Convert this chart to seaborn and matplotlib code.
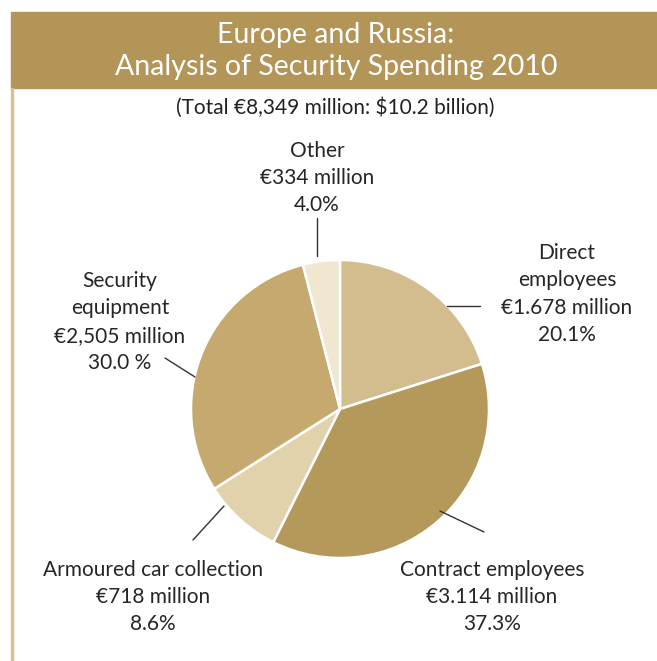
import matplotlib
matplotlib.use("Agg")
import matplotlib.pyplot as plt
from matplotlib.patches import Rectangle
import seaborn as sns

# Spending breakdown (EUR million)
categories = ["Direct\nemployees", "Contract employees", "Armoured car collection",
              "Security\nequipment", "Other"]
amount_labels = ["€1.678 million", "€3.114 million", "€718 million",
                 "€2,505 million", "€334 million"]
pct_labels = ["20.1%", "37.3%", "8.6%", "30.0 %", "4.0%"]
values = [1678, 3114, 718, 2505, 334]
slice_colors = ["#d3bd8f", "#b5995b", "#e2d2ac", "#c5a96f", "#f1e7d0"]

title_lines = "Europe and Russia:\nAnalysis of Security Spending 2010"
subtitle = "(Total €8,349 million: $10.2 billion)"

sns.set_theme(style="white")
plt.rcParams["font.family"] = ["Lato", "DejaVu Sans"]

W, H = 657, 661
fig = plt.figure(figsize=(W / 100, H / 100), dpi=100)
ax = fig.add_axes([0, 0, 1, 1])
ax.set_xlim(0, W)
ax.set_ylim(0, H)
ax.axis("off")

def py(y):
    return H - y

# header band and left rule
gold = "#b39558"
ax.add_patch(Rectangle((11, py(88)), W - 11, 76, color=gold, zorder=1))
ax.add_patch(Rectangle((11, 0), 2, py(88), color="#d6c291", zorder=1))
ax.text(336, py(51), title_lines, ha="center", va="center", color="white",
        fontsize=20.5, linespacing=1.32, zorder=2)
ax.text(335, py(108), subtitle, ha="center", va="center", color="#222222",
        fontsize=15)

# pie
cx, cy, r = 340, 409, 149
ax.pie(values, colors=slice_colors, startangle=90, counterclock=False,
       center=(cx, py(cy)), radius=r, frame=True,
       wedgeprops=dict(edgecolor="white", linewidth=1.8))
ax.set_xlim(0, W)
ax.set_ylim(0, H)
ax.set_aspect("equal")
ax.axis("off")

# label positions (centre of text block) and leader lines
label_pos = [(567, 294), (492, 597), (153, 597), (120, 322), (317, 178)]
leaders = [((447, 306), (480, 306)), ((440, 511), (484, 532)),
           ((193, 540), (224, 506)), ((165, 358), (195, 377)),
           ((317, 218), (317, 256))]

text_color = "#262626"
for cat, amt, pct, (lx, ly), (p0, p1) in zip(categories, amount_labels,
                                              pct_labels, label_pos, leaders):
    ax.text(lx, py(ly), f"{cat}\n{amt}\n{pct}", ha="center", va="center",
            color=text_color, fontsize=15, linespacing=1.45)
    ax.plot([p0[0], p1[0]], [py(p0[1]), py(p1[1])], color="#333333", lw=1.0)

fig.savefig("out.png", dpi=100)
